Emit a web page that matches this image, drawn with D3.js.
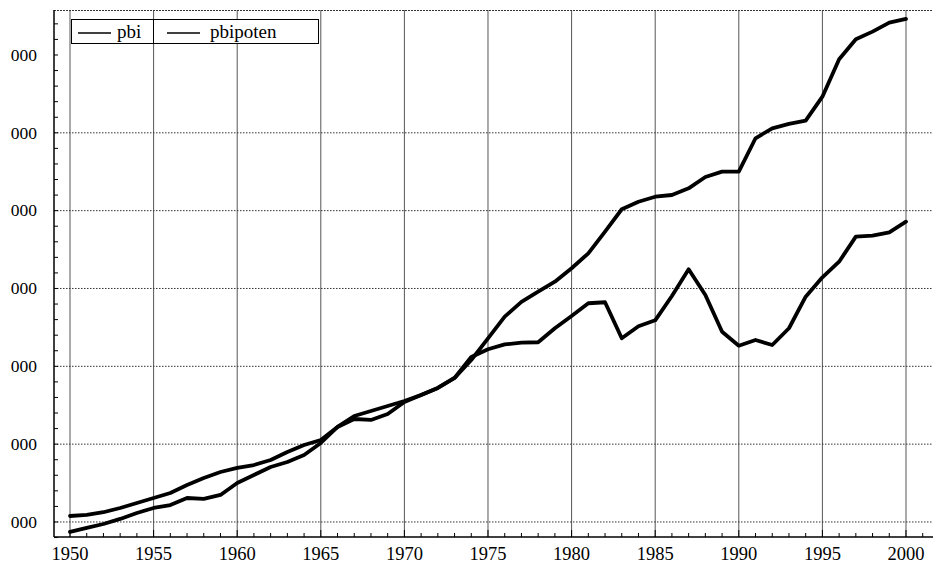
<!DOCTYPE html>
<html><head><meta charset="utf-8">
<script src="https://cdn.jsdelivr.net/npm/d3@7/dist/d3.min.js"></script>
<style>body{margin:0;background:#fff}svg{display:block}</style>
</head><body><svg id="c" width="933" height="563"></svg>
<script>
// ---- data ----
const years = d3.range(1950, 2001);
const pbi = [872, 923, 974, 1039, 1116, 1180, 1218, 1308, 1296, 1347,
  1501, 1604, 1707, 1771, 1861, 2015, 2221, 2323, 2311, 2388,
  2542, 2632, 2722, 2850, 3120, 3219, 3281, 3304, 3309, 3489,
  3647, 3810, 3823, 3360, 3514, 3591, 3904, 4247, 3917, 3445,
  3265, 3338, 3274, 3489, 3895, 4144, 4344, 4666, 4678, 4722, 4858];
const pbipoten = [1077, 1090, 1125, 1180, 1244, 1308, 1373, 1475, 1565, 1642,
  1694, 1732, 1797, 1899, 1989, 2054, 2221, 2362, 2426, 2490,
  2555, 2632, 2722, 2850, 3081, 3360, 3638, 3827, 3959, 4087,
  4260, 4452, 4730, 5018, 5115, 5179, 5201, 5287, 5433, 5501,
  5501, 5930, 6058, 6114, 6156, 6464, 6945, 7202, 7300, 7415, 7463];
const seriesNames = ["pbi", "pbipoten"];
const xTickLabels = ["1950","1955","1960","1965","1970","1975","1980","1985","1990","1995","2000"];
const xMinorTicks = d3.range(1950, 2002);
const yTickValues = [1000, 2000, 3000, 4000, 5000, 6000, 7000];
const yTickLabels = ["000","000","000","000","000","000","000"];
const yGridValues = [1000, 2000, 3000, 4000, 5000, 6000];
const yMinorTicks = d3.range(800, 7401, 200);

// ---- layout ----
const L = 54, T = 10, R = 933, B = 537;
const svg = d3.select("#c");
const x = d3.scaleLinear().domain([1949.043, 2001.615]).range([L, R]);
const y = d3.scaleLinear().domain([807, 7578]).range([B, T]);
const serif = "'Liberation Serif','Times New Roman',serif";

// vertical grid
svg.append("g").selectAll("line").data(xTickLabels.map(Number)).join("line")
  .attr("x1", d => x(d)).attr("x2", d => x(d)).attr("y1", T).attr("y2", B)
  .attr("stroke", "#555").attr("stroke-width", 1);
// horizontal dotted grid
svg.append("g").selectAll("line").data(yGridValues).join("line")
  .attr("x1", L).attr("x2", R).attr("y1", d => y(d)).attr("y2", d => y(d))
  .attr("stroke", "#333").attr("stroke-width", 1).attr("stroke-dasharray", "1.5,1.5");
// top frame (dotted)
svg.append("line").attr("x1", L).attr("x2", R).attr("y1", T + 0.5).attr("y2", T + 0.5)
  .attr("stroke", "#333").attr("stroke-width", 1.2).attr("stroke-dasharray", "2,1");

// axes lines
svg.append("line").attr("x1", L).attr("x2", L).attr("y1", T).attr("y2", B)
  .attr("stroke", "#000").attr("stroke-width", 1.5);
svg.append("line").attr("x1", L).attr("x2", R).attr("y1", B).attr("y2", B)
  .attr("stroke", "#000").attr("stroke-width", 1.5);

// x ticks (upward)
svg.append("g").selectAll("line").data(xMinorTicks).join("line")
  .attr("x1", d => x(d)).attr("x2", d => x(d)).attr("y1", B)
  .attr("y2", d => B - (d % 5 === 0 ? 7 : 4))
  .attr("stroke", "#000").attr("stroke-width", 1);
// x labels
svg.append("g").selectAll("text").data(xTickLabels).join("text")
  .attr("x", d => x(+d)).attr("y", 560).attr("text-anchor", "middle")
  .attr("font-family", serif).attr("font-size", 18.5).text(d => d);

// y ticks (rightward)
svg.append("g").selectAll("line").data(yMinorTicks).join("line")
  .attr("x1", L).attr("x2", L + 4).attr("y1", d => y(d)).attr("y2", d => y(d))
  .attr("stroke", "#000").attr("stroke-width", 1);
// y labels
svg.append("g").selectAll("text").data(yTickValues).join("text")
  .attr("x", 37).attr("y", d => y(d)).attr("dy", "0.33em").attr("text-anchor", "end")
  .attr("font-family", serif).attr("font-size", 17.5).text((d, i) => yTickLabels[i]);

// lines
const line = d3.line().x((d, i) => x(years[i])).y(d => y(d));
[pbipoten, pbi].forEach(s => {
  svg.append("path").datum(s).attr("d", line).attr("fill", "none")
    .attr("stroke", "#000").attr("stroke-width", 3.8)
    .attr("stroke-linejoin", "round").attr("stroke-linecap", "round");
});

// legend
const lg = svg.append("g");
lg.append("rect").attr("x", 71.5).attr("y", 19.5).attr("width", 247).attr("height", 24)
  .attr("fill", "#fff").attr("stroke", "#000").attr("stroke-width", 1);
lg.append("line").attr("x1", 153.5).attr("x2", 153.5).attr("y1", 19.5).attr("y2", 43.5)
  .attr("stroke", "#000").attr("stroke-width", 1);
const legendPos = [{lx: 78, tx: 117}, {lx: 167, tx: 210}];
seriesNames.forEach((n, i) => {
  lg.append("line").attr("x1", legendPos[i].lx).attr("x2", legendPos[i].lx + 33)
    .attr("y1", 33).attr("y2", 33).attr("stroke", "#000").attr("stroke-width", 1.5);
  lg.append("text").attr("x", legendPos[i].tx).attr("y", 38)
    .attr("font-family", serif).attr("font-size", 19).text(n);
});
</script></body></html>
